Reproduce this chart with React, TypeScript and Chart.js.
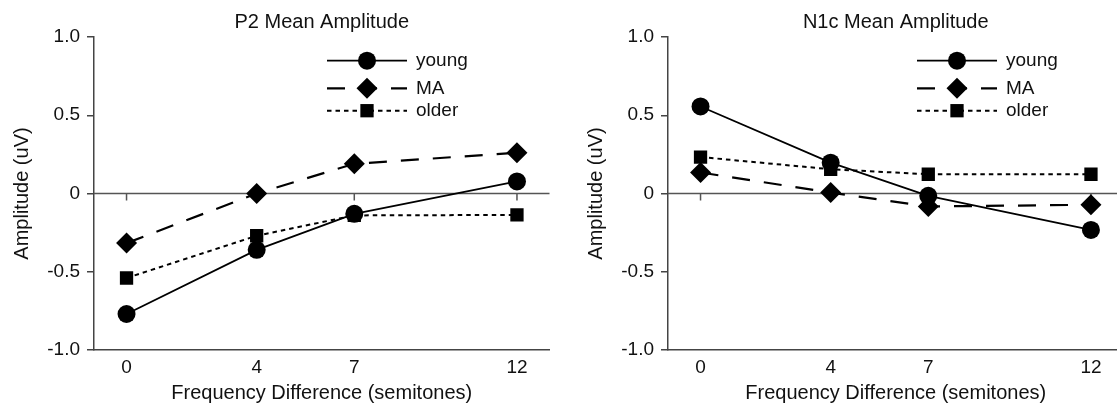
import React, { useEffect, useRef } from "react";
import { Chart, registerables } from "chart.js";

Chart.register(...registerables);

// ---- data ----
const xValues = [0, 4, 7, 12];
const xTickLabels = ["0", "4", "7", "12"];
const yTickValues = [-1, -0.5, 0, 0.5, 1];
const yTickLabels = ["-1.0", "-0.5", "0", "0.5", "1.0"];
const seriesNames = ["young", "MA", "older"];

const p2Young = [-0.77, -0.36, -0.13, 0.077];
const p2MA = [-0.317, 0.0, 0.19, 0.26];
const p2Older = [-0.54, -0.27, -0.14, -0.137];

const n1cYoung = [0.556, 0.197, -0.015, -0.233];
const n1cMA = [0.134, 0.006, -0.083, -0.072];
const n1cOlder = [0.233, 0.155, 0.123, 0.123];

const FONT = "'Liberation Sans', Arial, Helvetica, sans-serif";
const TEXT = "#111";
const AXIS = "#444";

const zeroLinePlugin = {
  id: "zeroLine",
  beforeDatasetsDraw(chart: any, _args: any, opts: any) {
    const { ctx, chartArea } = chart;
    const xs = chart.scales.x;
    const ys = chart.scales.y;
    const y0 = ys.getPixelForValue(0);
    ctx.save();
    ctx.strokeStyle = opts.color;
    ctx.lineWidth = opts.width;
    ctx.beginPath();
    ctx.moveTo(chartArea.left, y0);
    ctx.lineTo(chartArea.right, y0);
    for (const v of xValues) {
      const px = xs.getPixelForValue(v);
      ctx.moveTo(px, y0);
      ctx.lineTo(px, y0 + opts.tickLength);
    }
    ctx.stroke();
    ctx.restore();
  },
};

const yTitlePlugin = {
  id: "yTitle",
  afterDraw(chart: any, _args: any, opts: any) {
    const { ctx, chartArea } = chart;
    ctx.save();
    ctx.translate(opts.x, (chartArea.top + chartArea.bottom) / 2 + opts.dy);
    ctx.rotate(-Math.PI / 2);
    ctx.fillStyle = TEXT;
    ctx.font = `${opts.size}px ${FONT}`;
    ctx.textAlign = "center";
    ctx.textBaseline = "middle";
    ctx.fillText(opts.text, 0, 0);
    ctx.restore();
  },
};

function drawMarker(ctx: CanvasRenderingContext2D, style: string, r: number, x: number, y: number) {
  ctx.beginPath();
  if (style === "circle") {
    ctx.arc(x, y, r, 0, Math.PI * 2);
  } else if (style === "rectRot") {
    ctx.moveTo(x - r, y);
    ctx.lineTo(x, y - r);
    ctx.lineTo(x + r, y);
    ctx.lineTo(x, y + r);
    ctx.closePath();
  } else {
    const h = r * Math.SQRT1_2;
    ctx.rect(x - h, y - h, 2 * h, 2 * h);
  }
  ctx.fill();
}

const lineLegendPlugin = {
  id: "lineLegend",
  afterDraw(chart: any, _args: any, opts: any) {
    const { ctx, chartArea } = chart;
    chart.data.datasets.forEach((ds: any, i: number) => {
      const yPos = chartArea.top + opts.rows[i];
      const x0 = chartArea.left + opts.left;
      const x1 = x0 + opts.lineLength;
      ctx.save();
      ctx.strokeStyle = ds.borderColor;
      ctx.lineWidth = ds.borderWidth;
      ctx.setLineDash(ds.borderDash || []);
      ctx.beginPath();
      ctx.moveTo(x0, yPos);
      ctx.lineTo(x1, yPos);
      ctx.stroke();
      ctx.setLineDash([]);
      ctx.fillStyle = ds.pointBackgroundColor;
      drawMarker(ctx, ds.pointStyle, ds.pointRadius, (x0 + x1) / 2, yPos);
      ctx.fillStyle = TEXT;
      ctx.font = `${opts.fontSize}px ${FONT}`;
      ctx.textAlign = "left";
      ctx.textBaseline = "middle";
      ctx.fillText(ds.label, x1 + opts.gap, yPos);
      ctx.restore();
    });
  },
};

function makeDatasets(young: number[], ma: number[], older: number[]) {
  const pts = (arr: number[]) => xValues.map((x, i) => ({ x, y: arr[i] }));
  return [
    {
      label: seriesNames[0],
      data: pts(young),
      borderColor: "#000",
      borderWidth: 1.8,
      borderDash: [],
      pointStyle: "circle",
      pointRadius: 9,
      pointBackgroundColor: "#000",
      pointBorderWidth: 0,
      tension: 0,
    },
    {
      label: seriesNames[1],
      data: pts(ma),
      borderColor: "#000",
      borderWidth: 2.2,
      borderDash: [18, 14],
      pointStyle: "rectRot",
      pointRadius: 10.5,
      pointBackgroundColor: "#000",
      pointBorderWidth: 0,
      tension: 0,
    },
    {
      label: seriesNames[2],
      data: pts(older),
      borderColor: "#000",
      borderWidth: 2,
      borderDash: [4.5, 4],
      pointStyle: "rect",
      pointRadius: 9.4,
      pointBackgroundColor: "#000",
      pointBorderWidth: 0,
      tension: 0,
    },
  ];
}

function AmpChart(props: { title: string; young: number[]; ma: number[]; older: number[]; legendLeft: number }) {
  const ref = useRef<HTMLCanvasElement | null>(null);
  useEffect(() => {
    if (!ref.current) return;
    const chart = new Chart(ref.current, {
      type: "line",
      data: { datasets: makeDatasets(props.young, props.ma, props.older) as any },
      options: {
        animation: false,
        responsive: false,
        layout: { padding: { left: 0, right: 10, top: 0, bottom: 0 } },
        plugins: {
          legend: { display: false },
          tooltip: { enabled: false },
          title: {
            display: true,
            text: props.title,
            fullSize: false,
            color: TEXT,
            font: { family: FONT, size: 20, weight: "normal" },
            padding: { top: 10, bottom: 3 },
          },
          zeroLine: { color: "#555", width: 1.5, tickLength: 7 },
          yTitle: { text: "Amplitude (uV)", x: 22, dy: 0, size: 20 },
          lineLegend: { left: props.legendLeft, lineLength: 80, gap: 9, rows: [23.7, 51.3, 73.7], fontSize: 19 },
        } as any,
        scales: {
          x: {
            type: "linear",
            min: -1,
            max: 13,
            afterBuildTicks: (s: any) => {
              s.ticks = xValues.map((v) => ({ value: v }));
            },
            afterFit: (s: any) => {
              s.height = 56;
            },
            ticks: {
              autoSkip: false,
              maxRotation: 0,
              padding: 6,
              color: TEXT,
              font: { family: FONT, size: 19 },
              callback: (v: any) => {
                const i = xValues.indexOf(Number(v));
                return i >= 0 ? xTickLabels[i] : "";
              },
            },
            grid: { display: false, drawTicks: false },
            border: { display: true, color: AXIS, width: 1.5 },
            title: {
              display: true,
              text: "Frequency Difference (semitones)",
              color: TEXT,
              font: { family: FONT, size: 20 },
              padding: { top: 0, bottom: 1 },
            },
          },
          y: {
            type: "linear",
            min: -1,
            max: 1,
            afterBuildTicks: (s: any) => {
              s.ticks = yTickValues.map((v) => ({ value: v }));
            },
            afterFit: (s: any) => {
              s.width = 94;
            },
            ticks: {
              padding: 7,
              color: TEXT,
              font: { family: FONT, size: 19 },
              callback: (v: any) => {
                const i = yTickValues.indexOf(Number(v));
                return i >= 0 ? yTickLabels[i] : "";
              },
            },
            grid: { drawOnChartArea: false, drawTicks: true, tickLength: 7, color: AXIS, lineWidth: 1.5 },
            border: { display: true, color: AXIS, width: 1.5 },
            title: { display: false },
          },
        } as any,
      },
      plugins: [zeroLinePlugin, lineLegendPlugin, yTitlePlugin],
    });
    return () => chart.destroy();
  }, []);
  return <canvas ref={ref} width={560} height={406} style={{ width: 560, height: 406, display: "block" }} />;
}

export default function App() {
  return (
    <div
      style={{
        position: "absolute",
        left: 0,
        top: 0,
        width: 1117,
        height: 406,
        overflow: "hidden",
        background: "#fff",
      }}
    >
      <div style={{ position: "absolute", left: 0, top: 0 }}>
        <AmpChart title="P2 Mean Amplitude" young={p2Young} ma={p2MA} older={p2Older} legendLeft={233} />
      </div>
      <div style={{ position: "absolute", left: 574, top: 0 }}>
        <AmpChart title="N1c Mean Amplitude" young={n1cYoung} ma={n1cMA} older={n1cOlder} legendLeft={249} />
      </div>
    </div>
  );
}
